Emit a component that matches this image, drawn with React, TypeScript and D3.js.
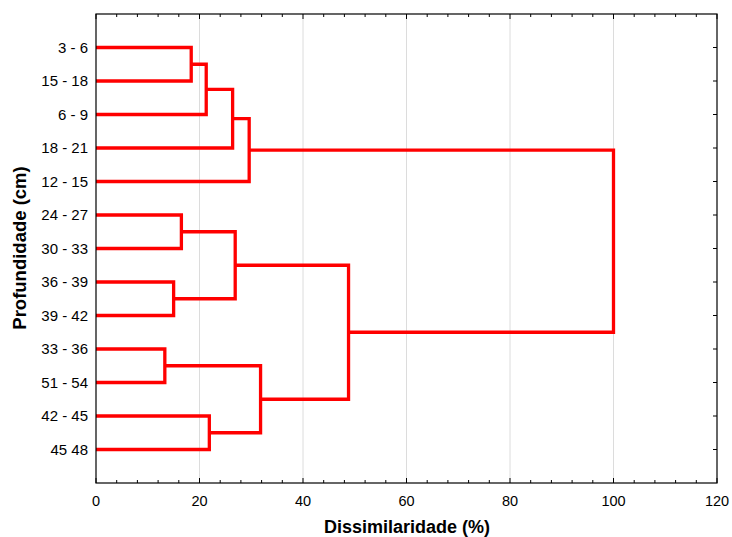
import React from "react";
import * as d3 from "d3";

const leafLabels = ["3 - 6", "15 - 18", "6 - 9", "18 - 21", "12 - 15", "24 - 27", "30 - 33", "36 - 39", "39 - 42", "33 - 36", "51 - 54", "42 - 45", "45 48"];
// merges: cluster ids 13.. ; children refer to leaf (0-12) or cluster ids
const mergeA = [0, 13, 14, 15, 5, 7, 17, 9, 11, 20, 19, 16];
const mergeB = [1, 2, 3, 4, 6, 8, 18, 10, 12, 21, 22, 23];
const mergeHeight = [18.4, 21.3, 26.4, 29.6, 16.5, 15.0, 26.9, 13.3, 21.9, 31.8, 48.8, 100];
const xTicks = [0, 20, 40, 60, 80, 100, 120];
const gridTicks = [20, 40, 60, 80, 100];

const W = 732, H = 537;
const left = 96, right = 717, top = 14, bottom = 483;
const FONT = "'Liberation Sans', Arial, sans-serif";

export default function App() {
  const x = d3.scaleLinear().domain([0, 120]).range([left, right]);
  const y = d3.scaleLinear().domain([0, leafLabels.length + 1]).range([top, bottom]);
  const n = leafLabels.length;
  const pos: number[] = leafLabels.map((_, i) => i + 1);
  const hgt: number[] = leafLabels.map(() => 0);
  const paths: string[] = [];
  mergeA.forEach((a, k) => {
    const b = mergeB[k];
    const h = mergeHeight[k];
    const p = d3.path();
    p.moveTo(x(hgt[a]), y(pos[a]));
    p.lineTo(x(h), y(pos[a]));
    p.lineTo(x(h), y(pos[b]));
    p.lineTo(x(hgt[b]), y(pos[b]));
    paths.push(p.toString());
    pos[n + k] = (pos[a] + pos[b]) / 2;
    hgt[n + k] = h;
  });
  const minor = d3.range(0, 121, 4);
  return (
    <svg width={W} height={H} style={{ position: "absolute", left: 0, top: 0 }} fontFamily={FONT}>
      <rect x={0} y={0} width={W} height={H} fill="#fff" />
      {gridTicks.map((t) => (
        <line key={"g" + t} x1={x(t)} x2={x(t)} y1={top} y2={bottom} stroke="#dcdcdc" strokeWidth={1} />
      ))}
      {minor.map((t) => {
        const len = t % 20 === 0 ? 5 : 3;
        return (
          <g key={"m" + t}>
            <line x1={x(t)} x2={x(t)} y1={bottom} y2={bottom - len} stroke="#000" />
            <line x1={x(t)} x2={x(t)} y1={top} y2={top + len} stroke="#000" />
          </g>
        );
      })}
      {leafLabels.map((l, i) => (
        <g key={"yt" + i}>
          <line x1={left} x2={left + 4} y1={y(i + 1)} y2={y(i + 1)} stroke="#000" />
          <line x1={right} x2={right - 4} y1={y(i + 1)} y2={y(i + 1)} stroke="#000" />
          <text x={left - 8} y={y(i + 1) + 5} textAnchor="end" fontSize={15} fill="#000">{l}</text>
        </g>
      ))}
      {paths.map((d, i) => (
        <path key={"p" + i} d={d} fill="none" stroke="#ff0000" strokeWidth={3.3} strokeLinejoin="miter" />
      ))}
      <rect x={left} y={top} width={right - left} height={bottom - top} fill="none" stroke="#000" strokeWidth={1.2} />
      {xTicks.map((t) => (
        <text key={"xt" + t} x={x(t)} y={506} textAnchor="middle" fontSize={14.5} fill="#000">{t}</text>
      ))}
      <text x={407} y={533} textAnchor="middle" fontSize={18} fontWeight="bold" fill="#000">Dissimilaridade (%)</text>
      <text transform={`translate(26,248) rotate(-90)`} textAnchor="middle" fontSize={18.5} fontWeight="bold" fill="#000">Profundidade (cm)</text>
    </svg>
  );
}
